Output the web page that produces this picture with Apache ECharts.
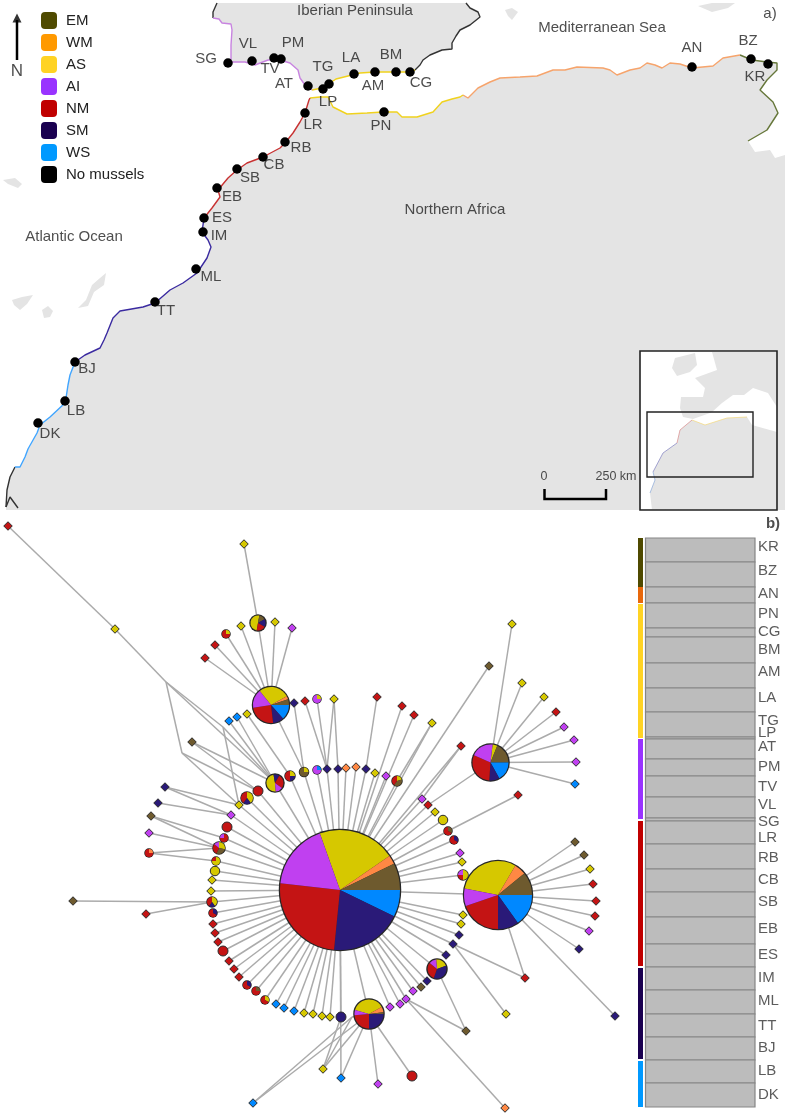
<!DOCTYPE html>
<html>
<head>
<meta charset="utf-8">
<style>html,body{margin:0;padding:0;background:#fff}#c{width:787px;height:1115px}</style>
<script src="https://cdn.jsdelivr.net/npm/echarts@6/dist/echarts.min.js"></script>
</head>
<body>
<div id="c"></div>
<script>
// ---------- populations ----------
const populations = ['EM','WM','AS','AI','NM','SM','WS'];
const legendColors = {EM:'#4f4a00',WM:'#ff9900',AS:'#ffd324',AI:'#9933ff',NM:'#c00000',SM:'#1a0050',WS:'#0099ff'};
const coastColors = {EM:'#66773a',WM:'#f6a46c',AS:'#f0d21e',AI:'#c884e0',NM:'#c83232',SM:'#3a2aa0',WS:'#40a5ff'};
const hapColors = {AS:'#d6c800',WM:'#ff8844',EM:'#6e5a2e',WS:'#0088ff',SM:'#2a1a78',NM:'#c41414',AI:'#c040f0'};
const pieOrder = ['AS','WM','EM','WS','SM','NM','AI'];

// ---------- map (a) ----------
const coastAI = [[213,18],[219,19],[222,23],[231,24],[232,30],[231,45],[231,62],[245,62],[255,65],[268,60],[280,60],[290,63],[298,70],[300,78],[305,85],[312,90]];
const coastASnorth = [[312,90],[322,88],[330,83],[336,79],[348,76],[360,73],[375,72],[395,72],[410,72],[415,70]];
const coastSpainEast = [[415,70],[420,65],[423,60],[430,55],[442,50],[452,49],[452,43],[456,36],[460,30],[470,25],[480,17],[478,12],[470,8],[466,3]];
const coastSpainWest = [[217,3],[213,12],[213,18]];
const coastWS = [[15,467],[20,467],[25,457],[28,449],[30,447],[37,433],[40,425],[50,417],[65,403],[66,398],[68,385],[70,375],[75,362]];
const coastSM = [[75,362],[85,355],[100,348],[104,340],[107,333],[113,318],[120,311],[143,307],[155,303],[170,290],[183,283],[197,273],[207,258],[211,247],[208,240],[202,232],[204,218]];
const coastNM = [[204,218],[212,208],[220,197],[218,190],[228,178],[237,170],[247,163],[263,157],[280,148],[285,143],[293,133],[300,122],[305,113],[309,100],[310,98]];
const coastASsouth = [[310,98],[320,97],[328,97],[333,107],[347,114],[367,113],[383,112],[397,112],[402,117],[417,117],[433,112],[442,102],[452,99],[460,97],[463,95]];
const coastWM = [[463,95],[468,98],[478,88],[490,82],[500,78],[520,77],[537,76],[553,70],[565,70],[577,67],[603,68],[610,70],[617,75],[630,70],[640,68],[647,63],[655,65],[662,68],[670,63],[680,64],[692,68],[713,66],[723,58],[740,55]];
const coastEM = [[740,55],[752,60],[767,62],[777,63],[777,70],[767,80],[760,90],[773,102],[778,113],[767,130],[748,141]];
const coastSahara = [[6,507],[7,490],[10,477],[15,467]];
const coastCape = [[6,507],[10,497],[18,508]];

const spainLand = [].concat([[217,3]],coastSpainWest,coastAI,coastASnorth,coastSpainEast);
const africaLand = [[6,510],[6,507]].concat(coastSahara,coastWS,coastSM,coastNM,coastASsouth,coastWM,coastEM,
  [[755,152],[770,150],[775,158],[785,155],[785,510]]);
const islands = [
  [[12,300],[22,297],[33,295],[27,304],[20,310],[14,305]],
  [[42,310],[48,306],[53,311],[50,317],[44,318]],
  [[78,308],[86,300],[92,285],[100,278],[106,273],[104,285],[94,292],[88,306]],
  [[3,180],[15,178],[22,184],[18,188],[8,184]],
  [[505,10],[512,8],[518,12],[512,20],[508,16]],
  [[698,6],[712,3],[735,3],[728,8],[712,12]]
];
const insetLand = [
  [[712,352],[777,352],[777,407],[768,393],[753,388],[744,395],[733,395],[722,403],[712,412],[710,413],[693,419],[683,417],[680,408],[681,397],[703,397],[705,388],[695,378],[717,370]],
  [[675,358],[695,353],[697,365],[690,372],[677,376],[672,368]],
  [[652,510],[650,493],[655,480],[653,472],[663,453],[677,443],[680,430],[692,420],[705,425],[727,418],[747,417],[752,425],[777,432],[777,509]]
];
const insetCoastSouth = [[650,493],[655,480],[653,472]];
const insetCoastSM = [[653,472],[663,453],[677,443]];
const insetCoastNM = [[677,443],[680,430],[692,420]];
const insetCoastMed = [[692,420],[705,425],[727,418],[747,417]];

const stationNames = ['SG','VL','TV','PM','AT','TG','LP','LA','AM','BM','CG','PN','LR','RB','CB','SB','EB','ES','IM','ML','TT','BJ','LB','DK','AN','BZ','KR'];
const stationPoints = [[228,63],[252,61],[274,58],[281,59],[308,86],[329,84],[323,89],[354,74],[375,72],[396,72],[410,72],[384,112],[305,113],[285,142],[263,157],[237,169],[217,188],[204,218],[203,232],[196,269],[155,302],[75,362],[65,401],[38,423],[692,67],[751,59],[768,64]];
const stationLabelAt = [[206,59],[248,44],[270,69],[293,43],[284,84],[323,67],[328,102],[351,58],[373,86],[391,55],[421,83],[381,126],[313,125],[301,148],[274,165],[250,178],[232,197],[222,218],[219,236],[211,277],[166,311],[87,369],[76,411],[50,434],[692,48],[748,41],[755,77]];
const placeNames = [[355,11,'Iberian Peninsula'],[602,28,'Mediterranean Sea'],[455,210,'Northern Africa'],[74,237,'Atlantic Ocean'],[770,14,'a)']];
const scaleNames = [[544,477,'0'],[616,477,'250 km']];

// ---------- structure plot (b) ----------
const structureSites = ['KR','BZ','AN','PN','CG','BM','AM','LA','TG','LP','AT','PM','TV','VL','SG','LR','RB','CB','SB','EB','ES','IM','ML','TT','BJ','LB','DK'];
const structureEdges = [538,562,587,603,628,637,663,688,712,737,739,759,776,797,818,821,844,869,892,917,944,967,990,1014,1037,1060,1083,1107];
const structureLabelY = [547,571,594,614,632,650,672,698,721,733,747,767,787,805,822,838,858,880,902,929,955,978,1001,1026,1048,1071,1095];
const regionSpans = [['EM',538,587],['WM',587,603],['AS',604,738],['AI',739,819],['NM',821,966],['SM',968,1059],['WS',1061,1107]];

// ---------- haplotype network (b) ----------
// counts follow pieOrder: AS, WM, EM, WS, SM, NM, AI
const hubCounts = {
  main:[75,8.6,26,26,69.7,90.7,64],
  B:[109.5,20,39.4,54.5,35.5,71,30],
  C:[15.3,0,68,61,33,110,72.7],
  D:[100,10,19,48,35,88,60],
  E:[135,22,7,0,90,85,21],
  F:[75,0,0,0,130,110,45],
  G:[180,0,50,0,60,70,0],
  H:[175,0,0,0,40,95,50]
};
const hubLayout = {main:[340,890,60,-19.6],B:[498,895,34,-79],C:[490.5,762.5,18,6.7],D:[271,705,18,-38.7],E:[369,1014,14.5,-74],F:[437,969,9.5,-5],G:[258,623,7.5,-170],H:[275,783,8.5,-185]};

const M = (AS,WM,EM,WS,SM,NM,AI) => [AS,WM,EM,WS,SM,NM,AI];
// x, y, population or mixed counts, optional drawn radius/size
const mainRing = [
 [239,805,'AS'],[231,815,'AI'],[227,827,'NM',10],[224,838,M(0,0,0,0,0,3,1),4],[219,848,M(2,0,2,0,0,2,1),6],[216,861,M(3,0,0,0,0,1,0),4],[215,871,'AS',9.5],[212,880,'AS'],[211,891,'AS'],
 [212,902,M(2,0,0,0,1,2,0),5],[213,913,M(0,0,0,0,1,2,0),4],[213,924,'NM'],[215,933,'NM'],[218,942,'NM'],[223,951,'NM',10],[229,961,'NM'],[234,969,'NM'],[239,977,'NM'],
 [247,985,M(0,0,0,0,1,2,0),4],[256,991,M(0,0,1,0,0,3,0),4],[265,1000,M(1,0,0,0,0,2,0),4],[276,1004,'WS'],[284,1008,'WS'],[294,1011,'WS'],[304,1013,'AS'],[313,1014,'AS'],[322,1016,'AS'],[330,1017,'AS'],[341,1017,'SM',10],
 [390,1007,'AI'],[400,1004,'AI'],[406,999,'AI'],[413,991,'AI'],[421,987,'EM'],[427,981,'SM'],[446,955,'SM'],[453,944,'SM'],[459,935,'SM'],[461,924,'AS'],[463,915,'AS'],
 [463,875,M(2,0,0,0,0,1,1),5],[462,862,'AS'],[460,853,'AI'],[454,840,M(0,0,0,0,1,2,0),4],[448,831,M(0,0,1,0,0,2,0),4],[443,820,'AS',9.5],[435,812,'AS'],[428,805,'NM'],[422,799,'AI'],
 [397,781,M(1,0,2,0,0,2,0),5],[386,776,'AI'],[375,773,'AS'],[366,769,'SM'],[356,767,'WM'],[346,768,'WM'],[338,769,'SM'],[327,769,'SM'],[317,770,M(0,0,0,1,0,0,3),4],[304,772,M(1,0,3,0,0,0,0),4.5],
 [290,776,M(1,0,0,0,1,2,0),5],[258,791,'NM',10],[247,798,M(2,0,0,0,1,2,0),6],
 [402,706,'NM'],[414,715,'NM'],[432,723,'AS'],[489,666,'EM'],[461,746,'NM']
];
const hubLeaves = {
 B:[[575,842,'EM'],[584,855,'EM'],[590,869,'AS'],[593,884,'NM'],[596,901,'NM'],[595,916,'NM'],[589,931,'AI'],[579,949,'SM'],[615,1016,'SM'],[525,978,'NM']],
 C:[[512,624,'AS'],[522,683,'AS'],[544,697,'AS'],[556,712,'NM'],[564,727,'AI'],[574,740,'AI'],[576,762,'AI'],[575,784,'WS']],
 D:[[241,626,'AS'],[275,622,'AS'],[292,628,'AI'],[226,634,M(1,0,0,0,0,3,0),4],[215,645,'NM'],[205,658,'NM']],
 E:[[412,1076,'NM',10],[378,1084,'AI'],[341,1078,'WS'],[323,1069,'AS'],[253,1103,'WS']],
 F:[[466,1031,'EM']],
 G:[[244,544,'AS']]
};
const looseNodes = {
 n1:[8,526,'NM'],n2:[115,629,'AS'],b1:[166,682,null],b2:[223,727,null],b3:[182,753,null],bE:[352,1017,null],
 n3:[192,742,'EM'],n4:[247,714,'AS'],n5:[237,717,'WS'],n6:[229,721,'WS'],n7:[165,787,'SM'],n8:[158,803,'SM'],n9:[151,816,'EM'],n10:[149,833,'AI'],
 n11:[149,853,M(0,1,0,0,0,3,0),4],n12:[73,901,'EM'],n13:[146,914,'NM'],n14:[294,703,'SM'],n15:[305,701,'NM'],n16:[317,699,M(1,0,0,0,0,0,3),4],n17:[334,699,'AS'],n18:[377,697,'NM'],
 n19:[518,795,'NM'],n20:[506,1014,'AS'],n21:[505,1108,'WM']
};
const ringRef = (x,y) => 'r'+x+'_'+y;
const extraLinks = [
 ['n1','n2'],['n2','b1'],['b1','H'],['b1','b2'],['b2','H'],['b1','b3'],['b3',ringRef(258,791)],['b3',ringRef(239,805)],['b2',ringRef(239,805)],
 ['n3','H'],['n3',ringRef(258,791)],['n4',ringRef(290,776)],['n5','H'],['n6','H'],
 ['n7',ringRef(239,805)],['n7',ringRef(231,815)],['n8',ringRef(231,815)],['n9',ringRef(219,848)],['n9',ringRef(224,838)],['n10',ringRef(219,848)],['n11',ringRef(219,848)],['n11',ringRef(216,861)],
 ['n12',ringRef(212,902)],['n13',ringRef(212,902)],['n14',ringRef(304,772)],['D',ringRef(304,772)],
 ['n15',ringRef(327,769)],['n16',ringRef(327,769)],['n17',ringRef(327,769)],['n17',ringRef(338,769)],['n18',ringRef(366,769)],
 ['C',ringRef(428,805)],['n19',ringRef(448,831)],[ringRef(432,723),ringRef(397,781)],[ringRef(461,746),ringRef(422,799)],
 ['H','main'],['B','main'],['E','main'],['F','main'],['G','D'],
 ['le_341_1078','main'],['le_323_1069',ringRef(341,1017)],['le_323_1069','bE'],['le_253_1103','bE'],['bE','E'],
 ['lb_525_978',ringRef(453,944)],['n20',ringRef(453,944)],[ringRef(406,999),'lf_466_1031'],[ringRef(406,999),'n21']
];

// ---------- build ----------
const el = document.getElementById('c');
const chart = echarts.init(el, null, {renderer:'canvas', width:787, height:1115});
const FONT = '"Liberation Sans", Arial, sans-serif';

const graphNodes = [], graphLinks = [], miniPies = [];
function addNode(id, x, y, kind, size){
  const node = {name:id, value:[x,y]};
  if (kind === null){
    node.symbolSize = 0; node.symbol='none';
  } else if (Array.isArray(kind)){
    node.symbol='circle'; node.symbolSize = size*2+1.5;
    node.itemStyle = {color:'#222', borderWidth:0};
    miniPies.push({x,y,r:size,counts:kind,start:90});
  } else {
    node.symbol = size ? 'circle' : 'diamond';
    node.symbolSize = size ? size : 8.5;
    node.itemStyle = {color:hapColors[kind], borderColor:'#2b2b2b', borderWidth:1};
  }
  graphNodes.push(node);
}
Object.keys(hubLayout).forEach(k=>{
  const h = hubLayout[k];
  graphNodes.push({name:k,value:[h[0],h[1]],symbol:'circle',symbolSize:h[2]*2+2.5,itemStyle:{color:'#262626'}});
  miniPies.push({x:h[0],y:h[1],r:h[2],counts:hubCounts[k],start:90-h[3]});
});
mainRing.forEach(n=>{ const id=ringRef(n[0],n[1]); addNode(id,n[0],n[1],n[2],n[3]); graphLinks.push({source:id,target:'main'}); });
Object.keys(hubLeaves).forEach(k=>{
  hubLeaves[k].forEach(n=>{ const id='l'+k.toLowerCase()+'_'+n[0]+'_'+n[1]; addNode(id,n[0],n[1],n[2],n[3]); graphLinks.push({source:id,target:k}); });
});
Object.keys(looseNodes).forEach(k=>{ const n=looseNodes[k]; addNode(k,n[0],n[1],n[2],n[3]); });
extraLinks.forEach(l=>graphLinks.push({source:l[0],target:l[1]}));

function coastSeries(name,data,color,width){
  return {name,type:'line',data,showSymbol:false,symbol:'none',silent:true,animation:false,z:3,
    lineStyle:{color,width:width||1.4},itemStyle:{color}};
}
const coastBlack = '#333';

const fillPoly = (pts,fill)=>({type:'polygon',shape:{points:pts},style:{fill}});
const textSeries = (name,data,size,extra)=>({name,type:'scatter',symbolSize:0,silent:true,z:6,data,
  label:Object.assign({show:true,position:'inside',align:'center',verticalAlign:'middle',formatter:p=>p.data[2],fontFamily:FONT,fontSize:size,color:'#222'},extra||{})});

const option = {
  animation:false,
  backgroundColor:'#fff',
  textStyle:{fontFamily:FONT},
  grid:{left:0,top:0,right:0,bottom:0,containLabel:false},
  xAxis:{type:'value',min:0,max:787,show:false},
  yAxis:{type:'value',min:0,max:1115,inverse:true,show:false},
  legend:{
    show:true,left:41,top:12,padding:0,orient:'vertical',itemWidth:16,itemHeight:17,itemGap:5,selectedMode:false,
    textStyle:{fontFamily:FONT,fontSize:15,color:'#222',padding:[0,0,0,4]},
    data:populations.map(p=>({name:p,icon:'roundRect',itemStyle:{color:legendColors[p],borderWidth:0},lineStyle:{width:0,opacity:0}}))
      .concat([{name:'No mussels',icon:'roundRect',itemStyle:{color:'#000'}}])
  },
  series:[
    {name:'land',type:'custom',coordinateSystem:'cartesian2d',silent:true,z:1,
      data:[[0]],
      renderItem:(p,api)=>{
        const c = pts=>pts.map(q=>api.coord(q));
        const children = [spainLand,africaLand].concat(islands).map(g=>fillPoly(c(g),'#e4e4e4'));
        const a = api.coord([640,351]), b = api.coord([777,509]);
        children.push({type:'rect',shape:{x:a[0],y:a[1],width:b[0]-a[0],height:b[1]-a[1]},style:{fill:'#fff'}});
        insetLand.forEach(g=>children.push(fillPoly(c(g),'#e4e4e4')));
        return {type:'group',children};
      }},
    {name:'frames',type:'custom',coordinateSystem:'cartesian2d',silent:true,z:4,
      data:[[0]],
      renderItem:(p,api)=>{
        const r=(x0,y0,x1,y1,w)=>{const a=api.coord([x0,y0]),b=api.coord([x1,y1]);
          return {type:'rect',shape:{x:a[0],y:a[1],width:b[0]-a[0],height:b[1]-a[1]},style:{fill:'none',stroke:'#222',lineWidth:w}};};
        return {type:'group',children:[r(640,351,777,510,1.6),r(647,412,753,477,1.4)]};
      }},
    coastSeries('spainW',coastSpainWest,coastBlack),
    coastSeries('spainE',coastSpainEast,coastBlack),
    coastSeries('sahara',coastSahara,coastBlack),
    coastSeries('cape',coastCape,coastBlack),
    coastSeries('EM',coastEM,coastColors.EM),
    coastSeries('WM',coastWM,coastColors.WM),
    coastSeries('AS',coastASnorth,coastColors.AS),
    coastSeries('ASs',coastASsouth,coastColors.AS),
    coastSeries('AI',coastAI,coastColors.AI),
    coastSeries('NM',coastNM,coastColors.NM),
    coastSeries('SM',coastSM,coastColors.SM),
    coastSeries('WS',coastWS,coastColors.WS),
    coastSeries('insetS',insetCoastSouth,'#8aa8d8',0.7),
    coastSeries('insetM',insetCoastSM,'#7f7fc0',0.7),
    coastSeries('insetN',insetCoastNM,'#d88a8a',0.7),
    coastSeries('insetMed',insetCoastMed,'#f4d97a',0.7),
    {name:'No mussels',type:'scatter',data:stationPoints,symbol:'circle',symbolSize:9.5,z:5,silent:true,itemStyle:{color:'#000',opacity:1}},
    textSeries('stationLabels',stationLabelAt.map((q,i)=>[q[0],q[1],stationNames[i]]),15),
    textSeries('places',placeNames,15),
    textSeries('scaleText',scaleNames,12.5),
    textSeries('north',[[17,71,'N']],17),
    {name:'northShaft',type:'line',data:[[17,60],[17,20]],symbol:'none',lineStyle:{color:'#000',width:2.5},silent:true,z:5},
    {name:'northHead',type:'scatter',data:[[17,18]],symbol:'triangle',symbolSize:[9,9],itemStyle:{color:'#000'},silent:true,z:5},
    {name:'scaleBar',type:'line',data:[[544.5,489],[544.5,499],[606,499],[606,489]],symbol:'none',lineStyle:{color:'#000',width:2.5,join:'miter'},silent:true,z:5},
    {name:'structure',type:'custom',coordinateSystem:'cartesian2d',silent:true,z:3,
      data:structureSites.map((s,i)=>[i]),
      renderItem:(p,api)=>{
        const i=api.value(0), a=api.coord([645.5,structureEdges[i]]), b=api.coord([755,structureEdges[i+1]]);
        return {type:'rect',shape:{x:a[0],y:a[1],width:b[0]-a[0],height:b[1]-a[1]},style:{fill:'#bcbcbc',stroke:'#858585',lineWidth:1.2}};
      }},
    {name:'regionStrip',type:'custom',coordinateSystem:'cartesian2d',silent:true,z:3,
      data:regionSpans.map((s,i)=>[i]),
      renderItem:(p,api)=>{
        const s=regionSpans[api.value(0)], a=api.coord([638,s[1]]), b=api.coord([643,s[2]]);
        return {type:'rect',shape:{x:a[0],y:a[1],width:b[0]-a[0],height:b[1]-a[1]},style:{fill:s[0]==='WM'?'#e8680c':legendColors[s[0]]}};
      }},
    textSeries('structureLabels',structureSites.map((s,i)=>[758,structureLabelY[i],s]),15,{align:'left',color:'#333'}),
    textSeries('panelB',[[773,524,'b)']],15,{fontWeight:'bold'}),
    {name:'network',type:'graph',coordinateSystem:'cartesian2d',layout:'none',silent:true,z:4,
      data:graphNodes,links:graphLinks,
      lineStyle:{color:'#ababab',width:1.5,opacity:1,curveness:0},
      emphasis:{disabled:true},label:{show:false},edgeSymbol:['none','none']}
  ]
};
chart.setOption(option);

// haplotype pies, centred through the chart's own scale
const pieSeries = miniPies.map((m,i)=>({
  name:'hap'+i,type:'pie',silent:true,z:8,animation:false,
  center:chart.convertToPixel({gridIndex:0},[m.x,m.y]),
  radius:[0,m.r],startAngle:m.start,clockwise:true,label:{show:false},labelLine:{show:false},
  itemStyle:{borderWidth:0},
  data:pieOrder.map((k,j)=>({name:k+i,value:m.counts[j],itemStyle:{color:hapColors[k]}})).filter(d=>d.value>0)
}));
chart.setOption({series:option.series.concat(pieSeries)});
</script>
</body>
</html>
